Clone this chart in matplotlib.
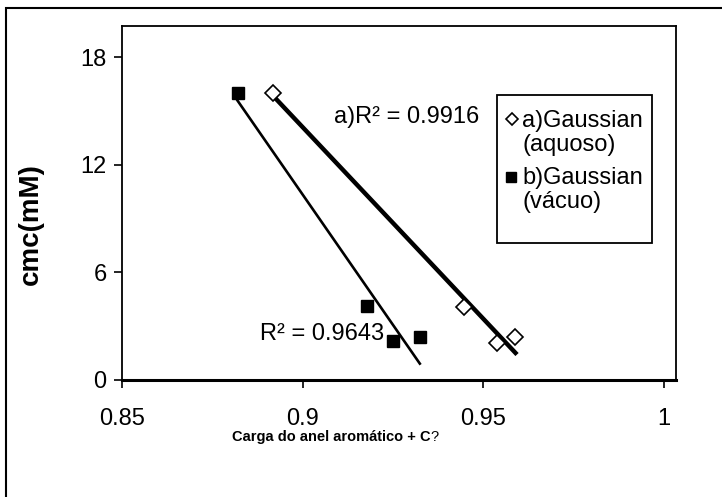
import numpy as np
import matplotlib
matplotlib.use('Agg')
import matplotlib.pyplot as plt
from matplotlib.patches import Rectangle
from matplotlib.lines import Line2D

plt.rcParams['font.family'] = ['Liberation Sans', 'DejaVu Sans']

# a) Gaussian (aquoso) - open diamonds
x_aquoso = [0.8918, 0.9447, 0.954, 0.959]
y_aquoso = [16.0, 4.05, 2.05, 2.4]
# b) Gaussian (vacuo) - filled squares
x_vacuo = [0.882, 0.918, 0.925, 0.9325]
y_vacuo = [16.0, 4.1, 2.2, 2.4]

x_ticks = [0.85, 0.9, 0.95, 1.0]
x_ticklabels = ['0.85', '0.9', '0.95', '1']
y_ticks = [0, 6, 12, 18]
legend_lines = [['a)Gaussian', '(aquoso)'], ['b)Gaussian', '(vácuo)']]
r2_labels = ['a)R² = 0.9916', 'R² = 0.9643']

W, H = 722, 497
FS = 17


def fx(px):
    return px / W


def fy(py):
    return 1 - py / H


fig = plt.figure(figsize=(W / 100, H / 100), dpi=100)
fig.patch.set_facecolor('white')
ax = fig.add_axes([fx(122), fy(380), fx(676) - fx(122), fy(26) - fy(380)])

# trend lines (least squares over each series)
for xs, ys, lw in [(x_aquoso, y_aquoso, 3.2), (x_vacuo, y_vacuo, 1.9)]:
    xs = np.array(xs)
    k, b = np.polyfit(xs, ys, 1)
    xl = np.array([xs.min(), xs.max()])
    ax.plot(xl, k * xl + b, color='black', lw=lw, zorder=2)

ax.plot(x_aquoso, y_aquoso, linestyle='none', marker='D', markersize=8.5,
        markerfacecolor='white', markeredgecolor='black', markeredgewidth=1.2, zorder=3)
ax.plot(x_vacuo, y_vacuo, linestyle='none', marker='s', markersize=9,
        markerfacecolor='black', markeredgecolor='black', zorder=3)

ax.set_xlim(0.85, 0.85 + (676 - 122) / 3610)
ax.set_ylim(0, (380 - 26) / 17.94)
ax.set_xticks(x_ticks)
ax.set_xticklabels(x_ticklabels)
ax.set_yticks(y_ticks)
ax.tick_params(direction='out', length=6, width=1.2, labelsize=FS)
ax.tick_params(axis='x', pad=14)
ax.tick_params(axis='y', pad=5)
for s in ax.spines.values():
    s.set_linewidth(1.3)
ax.spines['bottom'].set_linewidth(2.2)

# R^2 annotations
fig.text(fx(334), fy(123), r2_labels[0], fontsize=FS, va='baseline', ha='left')
fig.text(fx(260), fy(340), r2_labels[1], fontsize=FS, va='baseline', ha='left')

# axis labels
fig.text(fx(31), fy(224), 'cmc(mM)', rotation=90, fontsize=20, fontweight='bold',
         ha='center', va='center')
xl_txt = fig.text(fx(232), fy(437), 'Carga do anel aromático + C', fontsize=10.5,
                  fontweight='bold', ha='left', va='center')
ax.annotate('?', xy=(1, 0), xycoords=xl_txt, fontsize=10.5, ha='left', va='bottom')

# manual legend
fig.add_artist(Rectangle((fx(497), fy(243)), fx(652) - fx(497), fy(95) - fy(243),
                         transform=fig.transFigure, facecolor='white',
                         edgecolor='black', lw=1.3))
fig.add_artist(Line2D([fx(512)], [fy(119)], transform=fig.transFigure, marker='D',
                      markersize=6.5, markerfacecolor='white', markeredgecolor='black',
                      markeredgewidth=1.2, linestyle='none'))
fig.add_artist(Line2D([fx(511)], [fy(177)], transform=fig.transFigure, marker='s',
                      markersize=7, markerfacecolor='black', markeredgecolor='black',
                      linestyle='none'))
baselines = [[127, 151], [184, 208]]
for lines, bls in zip(legend_lines, baselines):
    for txt, bl in zip(lines, bls):
        fig.text(fx(522), fy(bl), txt, fontsize=FS, ha='left', va='baseline')

# outer chart border
fig.add_artist(Rectangle((fx(6), -0.1), 1.2, fy(8) + 0.1, transform=fig.transFigure,
                         facecolor='none', edgecolor='black', lw=1.5))

fig.savefig('out.png', dpi=100, facecolor='white')
